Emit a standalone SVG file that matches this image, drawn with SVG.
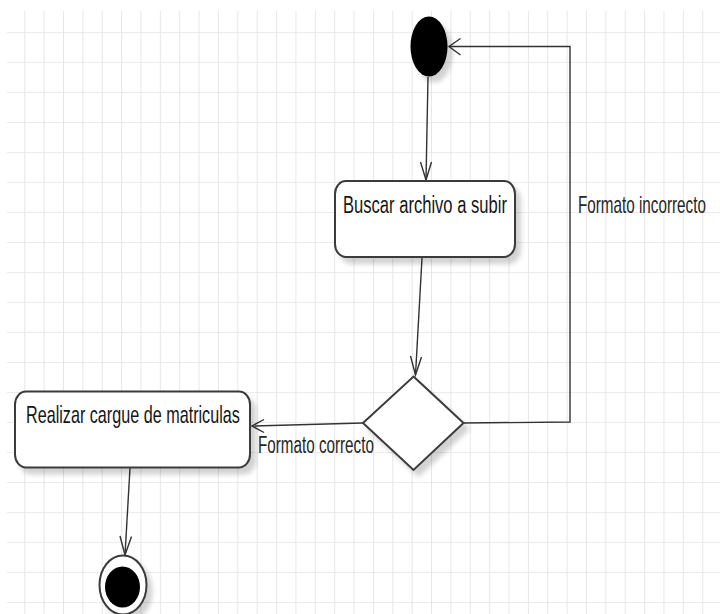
<svg xmlns="http://www.w3.org/2000/svg" width="720" height="614" viewBox="0 0 720 614">
  <defs>
    <style>
      .node { fill: #ffffff; stroke: #3a3a3a; stroke-width: 2; }
      .txt { font-family: "Liberation Sans", Arial, sans-serif; font-size: 24px; fill: #161616; }
      .lbl { font-family: "Liberation Sans", Arial, sans-serif; font-size: 23px; fill: #262626; }
      .edge { fill: none; stroke: #333333; stroke-width: 1.4; }
      .head { fill: none; stroke: #333333; stroke-width: 1.4; stroke-linejoin: miter; }
      .gv { stroke: #e6e6e6; stroke-width: 1; }
      .gh { stroke: #ececec; stroke-width: 2.2; }
    </style>
    <pattern id="gridV" patternUnits="userSpaceOnUse" x="4.9" y="0" width="19.37" height="30">
      <line class="gv" x1="0.5" y1="0" x2="0.5" y2="30"/>
    </pattern>
    <pattern id="gridH" patternUnits="userSpaceOnUse" x="0" y="2" width="19.37" height="30">
      <line class="gh" x1="0" y1="0" x2="19.37" y2="0"/>
    </pattern>
    <filter id="shadow" x="-20%" y="-20%" width="150%" height="160%">
      <feGaussianBlur in="SourceAlpha" stdDeviation="2.5" result="b"/>
      <feOffset in="b" dx="5" dy="6" result="o"/>
      <feComponentTransfer in="o" result="s">
        <feFuncA type="linear" slope="0.18"/>
      </feComponentTransfer>
      <feMerge>
        <feMergeNode in="s"/>
        <feMergeNode in="SourceGraphic"/>
      </feMerge>
    </filter>
  </defs>

  <rect x="0" y="0" width="720" height="614" fill="#ffffff"/>
  <g id="grid">
    <rect x="7" y="11" width="713" height="603" fill="url(#gridH)"/>
    <rect x="7" y="11" width="713" height="603" fill="url(#gridV)"/>
  </g>

  <g id="connectors">
    <!-- initial -> Buscar -->
    <line class="edge" x1="428" y1="77" x2="426" y2="180"/>
    <polyline class="head" points="420.5,162 426,180 431.5,162"/>
    <!-- Buscar -> decision -->
    <line class="edge" x1="422" y1="258" x2="415.5" y2="375"/>
    <polyline class="head" points="410.5,356 415.5,375 421.5,357"/>
    <!-- decision -> Realizar (Formato correcto) -->
    <line class="edge" x1="363" y1="423" x2="252" y2="426"/>
    <polyline class="head" points="264,419.5 252,426 264,432.5"/>
    <!-- decision -> initial (Formato incorrecto) -->
    <polyline class="edge" points="463,423 570,422 570,46.5 449,46.5"/>
    <polyline class="head" points="460.5,38.5 449,46.5 460.5,55"/>
    <!-- Realizar -> final -->
    <line class="edge" x1="130" y1="468" x2="125" y2="555"/>
    <polyline class="head" points="120,536 125,555 131.5,536.5"/>
    <text class="lbl" transform="translate(258,452.5) scale(0.662,1)">Formato correcto</text>
    <text class="lbl" transform="translate(578,213) scale(0.663,1)">Formato incorrecto</text>
  </g>

  <g id="initial">
    <ellipse cx="429" cy="46.5" rx="18.5" ry="30" fill="#000000" filter="url(#shadow)"/>
  </g>

  <g id="buscar">
    <rect class="node" x="335" y="181" width="180" height="76" rx="11" ry="13" filter="url(#shadow)"/>
    <text class="txt" transform="translate(343,213) scale(0.691,1)">Buscar archivo a subir</text>
  </g>

  <g id="decision">
    <polygon class="node" points="413.5,376.5 463.5,423 413.5,470 363,423" filter="url(#shadow)"/>
  </g>

  <g id="realizar">
    <rect class="node" x="15" y="391.5" width="235" height="76" rx="11" ry="13" filter="url(#shadow)"/>
    <text class="txt" transform="translate(26,423) scale(0.674,1)">Realizar cargue de matriculas</text>
  </g>

  <g id="final">
    <ellipse cx="123" cy="585" rx="23.5" ry="29.5" fill="#ffffff" stroke="#3a3a3a" stroke-width="2" filter="url(#shadow)"/>
    <ellipse cx="122.5" cy="587" rx="17.5" ry="20.5" fill="#000000"/>
  </g>
</svg>
